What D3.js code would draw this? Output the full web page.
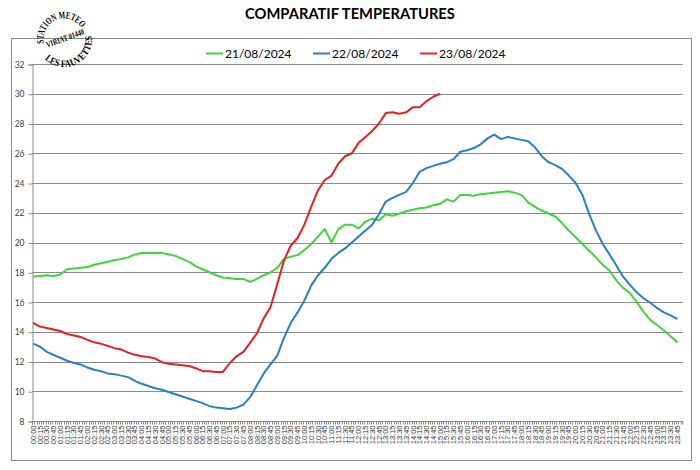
<!DOCTYPE html>
<html><head><meta charset="utf-8">
<script src="https://cdn.jsdelivr.net/npm/d3@7/dist/d3.min.js"></script>
<style>body{margin:0;background:#fff}</style>
</head><body><svg id="c" width="700" height="470"></svg>
<script>
const title = "COMPARATIF TEMPERATURES";
const seriesNames = ["21/08/2024", "22/08/2024", "23/08/2024"];
const seriesColors = ["#3dd63a", "#2580c6", "#e3211f"];
// quarter-hour readings (°C)
const temp21 = [
17.7,17.75,17.8,17.75,17.85,18.2,18.25,18.3,18.35,18.5,
18.6,18.7,18.8,18.9,19.0,19.2,19.3,19.3,19.3,19.3,
19.2,19.1,18.9,18.7,18.4,18.2,18.0,17.8,17.65,17.6,
17.55,17.55,17.35,17.55,17.8,18.0,18.3,18.9,19.05,19.15,
19.5,19.9,20.4,20.9,20.0,20.9,21.2,21.2,20.95,21.4,
21.6,21.5,21.9,21.8,21.95,22.1,22.2,22.3,22.35,22.5,
22.6,22.9,22.75,23.2,23.2,23.15,23.25,23.3,23.35,23.4,
23.45,23.35,23.2,22.7,22.4,22.15,21.95,21.75,21.3,20.8,
20.35,19.9,19.45,19.0,18.5,18.1,17.45,16.95,16.6,16.0,
15.35,14.8,14.45,14.1,13.7,13.3];
const temp22 = [
13.2,13.0,12.65,12.45,12.25,12.05,11.9,11.8,11.6,11.45,
11.35,11.2,11.15,11.05,10.95,10.7,10.5,10.35,10.2,10.1,
9.95,9.8,9.65,9.5,9.35,9.2,9.0,8.9,8.85,8.8,
8.9,9.1,9.6,10.4,11.2,11.8,12.4,13.6,14.6,15.3,
16.1,17.1,17.8,18.3,18.9,19.3,19.6,20.0,20.4,20.8,
21.2,21.9,22.75,23.0,23.2,23.4,24.0,24.75,25.0,25.15,
25.3,25.4,25.6,26.1,26.2,26.35,26.6,27.0,27.25,26.95,
27.1,27.0,26.9,26.8,26.4,25.8,25.4,25.2,24.95,24.5,
24.0,23.2,21.9,20.8,19.9,19.2,18.45,17.7,17.15,16.65,
16.25,15.95,15.6,15.3,15.1,14.85];
const temp23 = [
14.6,14.35,14.25,14.15,14.05,13.85,13.75,13.65,13.45,13.3,
13.2,13.05,12.9,12.8,12.6,12.45,12.35,12.3,12.2,11.95,
11.85,11.8,11.75,11.7,11.55,11.35,11.35,11.3,11.3,11.9,
12.35,12.65,13.25,13.9,14.9,15.65,17.2,18.8,19.8,20.3,
21.2,22.4,23.5,24.2,24.5,25.3,25.8,26.0,26.7,27.1,
27.5,28.0,28.7,28.75,28.65,28.75,29.1,29.1,29.5,29.8,
30.0];
const yTicks = [8,10,12,14,16,18,20,22,24,26,28,30,32];

const pad = n => String(n).padStart(2, "0");
const slots = d3.range(0, 1440, 5).map(m => pad(Math.floor(m / 60)) + ":" + pad(m % 60));
const xLabels = slots.filter((s, i) => i % 3 === 0);
const series = [temp21, temp22, temp23];

const svg = d3.select("#c");
const L = 32, R = 683, T = 64, B = 421;
const grey = "#8a8a8a";

const x = d3.scaleBand().domain(slots).range([L, R]).paddingInner(0).paddingOuter(0);
const y = d3.scaleLinear().domain([8, 32]).range([B, T]);
const cx = s => x(s) + x.bandwidth() / 2;

// outer chart border
svg.append("rect").attr("x", 11.5).attr("y", 38.5).attr("width", 680).attr("height", 422)
  .attr("fill", "none").attr("stroke", grey);

// title
const t = svg.append("text").attr("x", 350).attr("y", 19).attr("text-anchor", "middle")
  .attr("font-family", "Lato").attr("font-weight", "bold").attr("font-size", 15)
  .attr("fill", "#000").text(title);
const tw = t.node().getComputedTextLength();
t.attr("font-size", 15 * 210 / tw);

// gridlines
svg.append("g").selectAll("line").data(yTicks.filter(v => v > 8)).join("line")
  .attr("x1", L).attr("x2", R).attr("y1", d => Math.round(y(d)) + 0.5).attr("y2", d => Math.round(y(d)) + 0.5)
  .attr("stroke", grey).attr("stroke-width", 1);

// y axis
const ya = svg.append("g").attr("transform", `translate(${L + 0.5},0.5)`)
  .call(d3.axisLeft(y).tickValues(yTicks).tickSize(4).tickPadding(4).tickFormat(d3.format("d")));
ya.selectAll("path,line").attr("stroke", grey);
ya.selectAll("text").attr("font-family", "Lato").attr("font-size", 8.5).attr("fill", "#404040");

// x axis
const xa = svg.append("g").attr("transform", `translate(0,${B + 0.5})`);
xa.append("line").attr("x1", L).attr("x2", R).attr("stroke", grey);
xa.selectAll("line.tk").data(slots.concat(["end"])).join("line").attr("class", "tk")
  .attr("x1", d => d === "end" ? R : Math.round(x(d)) + 0.5)
  .attr("x2", d => d === "end" ? R : Math.round(x(d)) + 0.5)
  .attr("y1", 0).attr("y2", 3).attr("stroke", grey);
xa.selectAll("text").data(xLabels).join("text")
  .attr("transform", d => `translate(${cx(d)},4) rotate(-90)`)
  .attr("text-anchor", "end").attr("dy", "0.35em")
  .attr("font-family", "Liberation Sans").attr("font-size", 7.5).attr("fill", "#333")
  .text(d => d);

// lines
const line = d3.line().x((d, i) => cx(slots[i * 3])).y(d => y(d));
series.forEach((s, k) => {
  svg.append("path").datum(s).attr("d", line).attr("fill", "none")
    .attr("stroke", seriesColors[k]).attr("stroke-width", 2).attr("stroke-linejoin", "round");
});

// legend
const legX = [206, 313, 420];
seriesNames.forEach((n, k) => {
  svg.append("line").attr("x1", legX[k]).attr("x2", legX[k] + 17).attr("y1", 53.5).attr("y2", 53.5)
    .attr("stroke", seriesColors[k]).attr("stroke-width", 2);
  svg.append("text").attr("x", legX[k] + 19).attr("y", 57.5)
    .attr("font-family", "Lato").attr("font-size", 12).attr("fill", "#000").text(n);
});

// station stamp
const st = svg.append("g").attr("font-family", "Liberation Serif").attr("font-weight", "bold")
  .attr("font-size", 10).attr("fill", "#000");
const ccx = 64, ccy = 39;
const pt = (r, a) => [ccx + r * Math.cos(a * Math.PI / 180), ccy + r * Math.sin(a * Math.PI / 180)];
const defs = svg.append("defs");
function arc(id, r, a1, a2, sweep) {
  const p1 = pt(r, a1), p2 = pt(r, a2);
  defs.append("path").attr("id", id)
    .attr("d", `M${p1[0]},${p1[1]} A${r},${r} 0 0 ${sweep} ${p2[0]},${p2[1]}`);
  return Math.abs(a2 - a1) * Math.PI / 180 * r;
}
const l1 = arc("arcTop", 20.5, 168, 326, 1);
st.append("text").append("textPath").attr("href", "#arcTop")
  .attr("textLength", l1).attr("lengthAdjust", "spacingAndGlyphs").text("STATION METEO");
const l2 = arc("arcBot", 28, 134, -6, 0);
st.append("text").append("textPath").attr("href", "#arcBot")
  .attr("textLength", l2).attr("lengthAdjust", "spacingAndGlyphs").text("LES FAUVETTES");
st.append("text").attr("transform", "translate(65,38) rotate(-20)").attr("text-anchor", "middle")
  .attr("dy", "0.35em").attr("font-size", 8.5).attr("textLength", 40).attr("lengthAdjust", "spacingAndGlyphs")
  .text("VIRIAT 01440");
</script></body></html>
